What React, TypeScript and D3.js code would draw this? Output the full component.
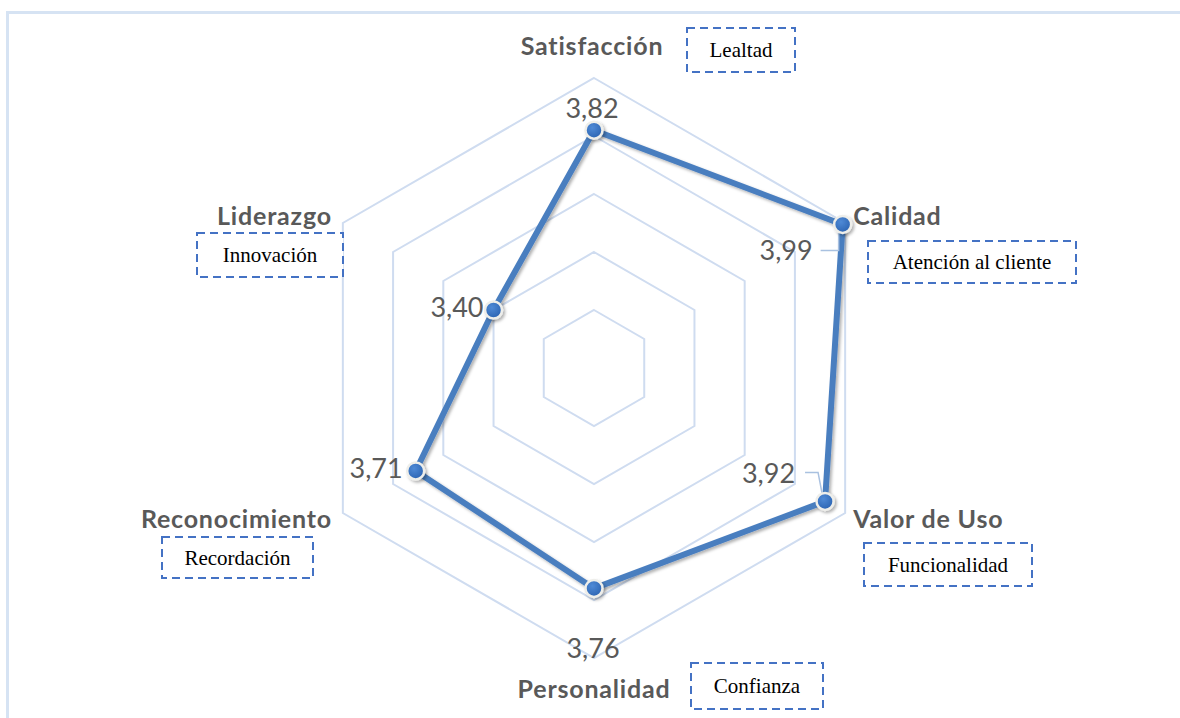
import React from 'react';
import * as d3 from 'd3';

// chart data
const categories = ['Satisfacción', 'Calidad', 'Valor de Uso', 'Personalidad', 'Reconocimiento', 'Liderazgo'];
const values = [3.82, 3.99, 3.92, 3.76, 3.71, 3.40];
const subLabels = ['Lealtad', 'Atención al cliente', 'Funcionalidad', 'Confianza', 'Recordación', 'Innovación'];
const ringTicks = [3.2, 3.4, 3.6, 3.8, 4.0];

const W = 1180;
const H = 718;
const cx = 594;
const cy = 368;
const R = 290;

// label placement (layout only)
const catPos = [
  { dx: -2, dy: -23, anchor: 'middle' },
  { dx: 8, dy: 2, anchor: 'start' },
  { dx: 8, dy: 15, anchor: 'start' },
  { dx: 0, dy: 40, anchor: 'middle' },
  { dx: -11, dy: 15, anchor: 'end' },
  { dx: -11, dy: 2, anchor: 'end' },
];
const valPos = [
  { dx: -2, dy: -12, anchor: 'middle' },
  { dx: -30, dy: 36, anchor: 'end' },
  { dx: -30, dy: -18, anchor: 'end' },
  { dx: -1, dy: 70, anchor: 'middle' },
  { dx: -13, dy: 7, anchor: 'end' },
  { dx: -10, dy: 7, anchor: 'end' },
];
const boxes = [
  { x: 687, y: 28, w: 108, h: 44 },
  { x: 868, y: 241, w: 208, h: 42 },
  { x: 864, y: 543, w: 168, h: 43 },
  { x: 691, y: 663, w: 132, h: 46 },
  { x: 162, y: 537, w: 151, h: 41 },
  { x: 197, y: 233, w: 146, h: 44 },
];

export default function App() {
  const r = d3.scaleLinear().domain([3, 4]).range([0, R]);
  const angle = (i: number) => (i * 2 * Math.PI) / categories.length;
  const pt = (i: number, v: number): [number, number] => [
    cx + r(v) * Math.sin(angle(i)),
    cy - r(v) * Math.cos(angle(i)),
  ];

  const closed = d3.line().curve(d3.curveLinearClosed);
  const pts = values.map((v, i) => pt(i, v));

  const fmt = (v: number) => d3.format('.2f')(v).replace('.', ',');

  // leader lines for the two labels pulled away from their points
  const p1 = pts[1];
  const p2 = pts[2];
  const leaders = [
    [[p1[0] - 22, p1[1] + 26], [p1[0] - 4, p1[1] + 26], [p1[0] - 4, p1[1] + 8]],
    [[p2[0] - 20, p2[1] - 29], [p2[0] - 7, p2[1] - 29], [p2[0] - 3, p2[1] - 8]],
  ] as [number, number][][];

  return (
    <svg width={W} height={H} style={{ position: 'absolute', left: 0, top: 0, background: '#fff' }}>
      <defs>
        <filter id="shadow" x="-10%" y="-10%" width="120%" height="120%">
          <feDropShadow dx="2" dy="2" stdDeviation="1.5" floodColor="#000" floodOpacity="0.3" />
        </filter>
        <radialGradient id="mk" cx="40%" cy="35%" r="70%">
          <stop offset="0%" stopColor="#4f8ad6" />
          <stop offset="100%" stopColor="#2a62b0" />
        </radialGradient>
      </defs>

      {/* frame */}
      <rect x={7.5} y={12.5} width={1175} height={720} fill="none" stroke="#d6e3f3" strokeWidth={3} />

      {/* rings */}
      {ringTicks.map((t) => (
        <path
          key={t}
          d={closed(categories.map((_, i) => pt(i, t))) || ''}
          fill="none"
          stroke="#cfdcf0"
          strokeWidth={2}
        />
      ))}

      {/* series */}
      <g filter="url(#shadow)">
        <path d={closed(pts) || ''} fill="none" stroke="#4a7ebf" strokeWidth={6} strokeLinejoin="round" />
      </g>

      {leaders.map((l, i) => (
        <path key={i} d={d3.line()(l) || ''} fill="none" stroke="#a9c1e0" strokeWidth={1.5} />
      ))}

      <g filter="url(#shadow)">
        {pts.map((p, i) => (
          <circle key={i} cx={p[0]} cy={p[1]} r={8.5} fill="url(#mk)" stroke="#eeeeea" strokeWidth={2.5} />
        ))}
      </g>

      {/* value labels */}
      {pts.map((p, i) => (
        <text
          key={i}
          x={p[0] + valPos[i].dx}
          y={p[1] + valPos[i].dy}
          textAnchor={valPos[i].anchor}
          fontFamily="Lato, sans-serif"
          fontSize={27}
          fill="#595959"
        >
          {fmt(values[i])}
        </text>
      ))}

      {/* category labels */}
      {categories.map((c, i) => {
        const [x, y] = pt(i, 4);
        return (
          <text
            key={c}
            x={x + catPos[i].dx}
            y={y + catPos[i].dy}
            textAnchor={catPos[i].anchor}
            fontFamily="Lato, sans-serif"
            fontWeight={700}
            fontSize={25}
            letterSpacing={0.8}
            fill="#595959"
          >
            {c}
          </text>
        );
      })}

      {/* dashed boxes */}
      {subLabels.map((s, i) => {
        const b = boxes[i];
        return (
          <g key={s}>
            <rect
              x={b.x}
              y={b.y}
              width={b.w}
              height={b.h}
              fill="#fff"
              stroke="#4472c4"
              strokeWidth={2}
              strokeDasharray="8 5"
            />
            <text
              x={b.x + b.w / 2}
              y={b.y + b.h / 2 + 7}
              textAnchor="middle"
              fontFamily="'Liberation Serif', 'Times New Roman', serif"
              fontSize={21}
              fill="#000"
            >
              {s}
            </text>
          </g>
        );
      })}
    </svg>
  );
}
